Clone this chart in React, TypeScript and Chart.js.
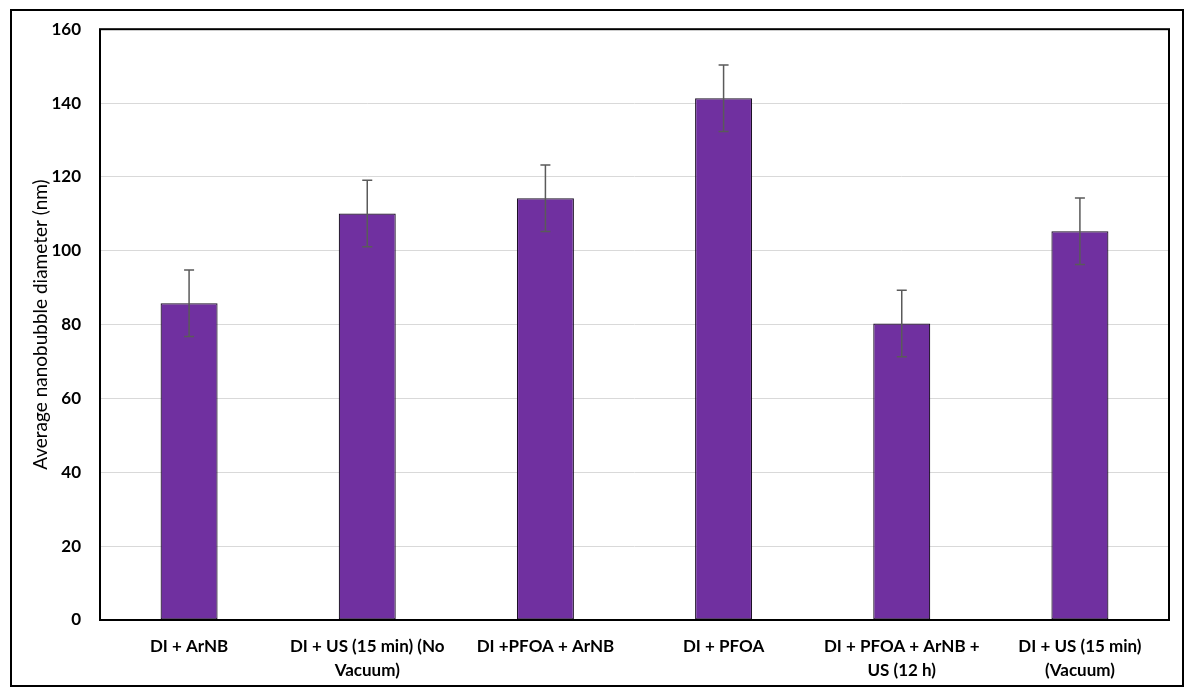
import { useEffect, useRef } from 'react';
import { Chart, registerables } from 'chart.js';

Chart.register(...registerables);

const categories: (string | string[])[] = [
	'DI + ArNB',
	['DI + US (15 min) (No', 'Vacuum)'],
	'DI +PFOA + ArNB',
	'DI + PFOA',
	['DI + PFOA + ArNB +', 'US (12 h)'],
	['DI + US (15 min)', '(Vacuum)'],
];
const diameters = [85.8, 110.1, 114.2, 141.3, 80.3, 105.3];
const errors = [9, 9, 9, 9, 9, 9];
const yTicks = [0, 20, 40, 60, 80, 100, 120, 140, 160];

const FONT = 'Lato, "Open Sans", sans-serif';

// error bars and borders drawn on top of the bars
const decorPlugin = {
	id: 'decor',
	afterDatasetsDraw(chart: Chart) {
		const { ctx, chartArea, scales } = chart;
		const meta = chart.getDatasetMeta(0);
		ctx.save();
		ctx.strokeStyle = '#5a5a5a';
		ctx.lineWidth = 1.5;
		meta.data.forEach((bar, i) => {
			const x = bar.x;
			const hi = scales.y.getPixelForValue(diameters[i] + errors[i]);
			const lo = scales.y.getPixelForValue(diameters[i] - errors[i]);
			ctx.beginPath();
			ctx.moveTo(x, hi);
			ctx.lineTo(x, lo);
			ctx.moveTo(x - 5, hi);
			ctx.lineTo(x + 5, hi);
			ctx.moveTo(x - 5, lo);
			ctx.lineTo(x + 5, lo);
			ctx.stroke();
		});
		ctx.strokeStyle = '#000';
		ctx.lineWidth = 2;
		ctx.strokeRect(chartArea.left, chartArea.top, chartArea.right - chartArea.left, chartArea.bottom - chartArea.top);
		ctx.strokeRect(11, 10, 1172, 676);
		ctx.restore();
	},
};

export default function App() {
	const canvasRef = useRef<HTMLCanvasElement | null>(null);
	const chartInstance = useRef<Chart | null>(null);

	useEffect(() => {
		const ctx = canvasRef.current?.getContext('2d');
		if (chartInstance.current) {
			chartInstance.current.destroy();
		}
		if (ctx) {
			chartInstance.current = new Chart(ctx, {
				type: 'bar',
				data: {
					labels: categories,
					datasets: [
						{
							data: diameters,
							backgroundColor: '#7030A0',
							borderColor: '#1c1026',
							borderWidth: 1.2,
							borderSkipped: false,
							barPercentage: 0.32,
							categoryPercentage: 1,
						},
					],
				},
				options: {
					animation: false,
					responsive: false,
					layout: { padding: { left: 12, right: 24, top: 29, bottom: 12 } },
					plugins: {
						legend: { display: false },
						tooltip: { enabled: false },
					},
					scales: {
						x: {
							grid: { display: false },
							border: { display: false },
							ticks: {
								color: '#000',
								maxRotation: 0,
								autoSkip: false,
								padding: 7,
								font: { family: FONT, size: 17, weight: 'bold', lineHeight: 1.4 },
							},
							afterFit(scale) {
								scale.height = 64;
							},
						},
						y: {
							min: 0,
							max: 160,
							afterBuildTicks(scale) {
								scale.ticks = yTicks.map((v) => ({ value: v }));
							},
							grid: { color: '#d9d9d9', lineWidth: 1, drawTicks: false },
							border: { display: false },
							ticks: {
								color: '#000',
								padding: 19,
								font: { family: FONT, size: 17, weight: 'bold' },
							},
							title: {
								display: true,
								text: 'Average nanobubble diameter (nm)',
								color: '#000',
								padding: { top: 17, bottom: 0 },
								font: { family: FONT, size: 19 },
							},
							afterFit(scale) {
								scale.width = 88;
							},
						},
					},
				},
				plugins: [decorPlugin],
			});
		}
		return () => {
			if (chartInstance.current) {
				chartInstance.current.destroy();
				chartInstance.current = null;
			}
		};
	}, []);

	return (
		<div style={{ position: 'absolute', left: 0, top: 0, width: 1193, height: 696, background: '#fff' }}>
			<canvas ref={canvasRef} width={1193} height={696}></canvas>
		</div>
	);
}
